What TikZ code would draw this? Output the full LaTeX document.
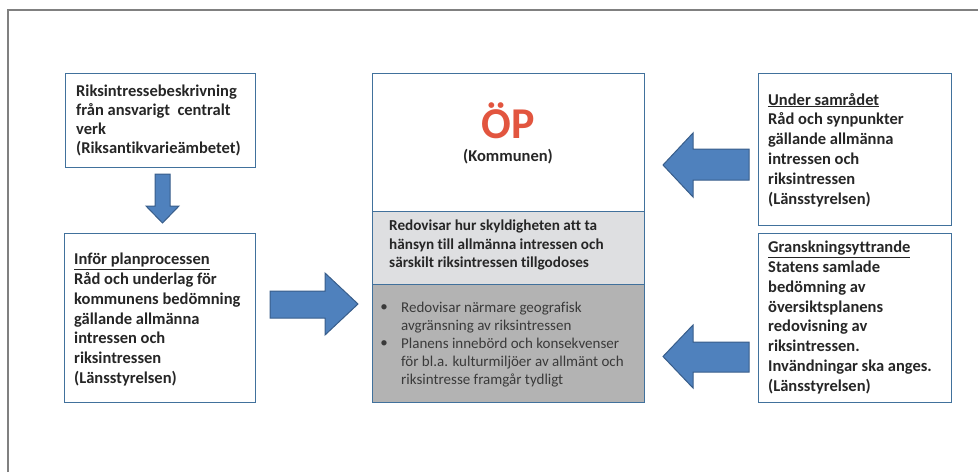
\documentclass[tikz,border=0pt]{standalone}
\usepackage{fontspec}
\setmainfont{Carlito}[Ligatures=NoCommon]
\usetikzlibrary{calc}
\definecolor{boxblue}{HTML}{41719C}
\definecolor{arrowfill}{HTML}{4F81BD}
\definecolor{arrowdraw}{HTML}{385D8A}
\definecolor{txt}{HTML}{262626}
\definecolor{bullettxt}{HTML}{3A3A3A}
\definecolor{midgray}{HTML}{DEDFE1}
\definecolor{lowgray}{HTML}{B3B3B3}
\definecolor{opred}{HTML}{E2553F}
\definecolor{frame}{HTML}{808080}
\tikzset{
  box/.style={draw=boxblue, line width=1.2pt, fill=white, anchor=north west, inner sep=0pt},
  boxtext/.style={anchor=north west, inner sep=0pt, align=left, text=txt,
    font=\fontsize{16.5}{19.8}\selectfont\bfseries},
  blockarrow/.style={fill=arrowfill, draw=arrowdraw, line width=1pt, line join=miter},
  bullettext/.style={anchor=north west, inner sep=0pt, text=bullettxt, font=\fontsize{15}{17.8}\selectfont},
}
\begin{document}
\begin{tikzpicture}[x=1pt,y=-1pt]
\useasboundingbox (0,0) rectangle (978,472);
% partial outer frame
\draw[frame, line width=1.2pt] (8,472) -- (8,10) -- (978,10);

% left boxes
\node[box, minimum width=190pt, minimum height=94pt] (A) at (65,73) {};
\node[boxtext, font=\fontsize{16.5}{19}\selectfont\bfseries] (Atext) at (76,85) {Riksintressebeskrivning\\från ansvarigt~ centralt\\verk\\(Riksantikvarieämbetet)};

\node[box, minimum width=191pt, minimum height=169pt] (B) at (64,233) {};
\node[boxtext] (Btext) at (74,253) {\underline{Inför planprocessen}\\Råd och underlag för\\kommunens bedömning\\gällande allmänna\\intressen och\\riksintressen\\(Länsstyrelsen)};

% right boxes
\node[box, minimum width=193pt, minimum height=152pt] (C) at (758,73) {};
\node[boxtext] (Ctext) at (768,93) {\underline{Under samrådet}\\Råd och synpunkter\\gällande allmänna\\intressen och\\riksintressen\\(Länsstyrelsen)};

\node[box, minimum width=193pt, minimum height=169pt] (D) at (758,233) {};
\node[boxtext] (Dtext) at (768,241) {\underline{Granskningsyttrande}\\Statens samlade\\bedömning av\\översiktsplanens\\redovisning av\\riksintressen.\\Invändningar ska anges.\\(Länsstyrelsen)};

% center box sections
\node[box, minimum width=272pt, minimum height=138pt] (top) at (372,73) {};
\node[box, fill=midgray, minimum width=272pt, minimum height=73pt] (mid) at (372,211) {};
\node[box, fill=lowgray, minimum width=272pt, minimum height=118pt] (low) at (372,284) {};

\node[anchor=center, inner sep=0pt, text=opred, font=\fontsize{44}{50}\selectfont\bfseries] (op) at (508,121) {ÖP};
\node[anchor=center, inner sep=0pt, text=txt, font=\fontsize{16.5}{19}\selectfont\bfseries] (kom) at (508,157) {(Kommunen)};

\node[anchor=north west, inner sep=0pt, align=left, text=txt, font=\fontsize{15.2}{18.2}\selectfont\bfseries] (midtext) at (389,220) {Redovisar hur skyldigheten att ta\\hänsyn till allmänna intressen och\\särskilt riksintressen tillgodoses};

\node[bullettext] (b1) at (401,300) {\begin{tabular}{@{}l@{}}Redovisar närmare geografisk\\avgränsning av riksintressen\end{tabular}};
\node[bullettext] (b2) at (401,336) {\begin{tabular}{@{}l@{}}Planens innebörd och konsekvenser\\för bl.a. kulturmiljöer av allmänt och\\riksintresse framgår tydligt\end{tabular}};
\node[anchor=base, inner sep=0pt, text=bullettxt, font=\fontsize{15}{17.8}\selectfont] at ($(b1.north west)+(-17,11)$) {•};
\node[anchor=base, inner sep=0pt, text=bullettxt, font=\fontsize{15}{17.8}\selectfont] at ($(b2.north west)+(-17,11)$) {•};

% block arrows
% down arrow A -> B
\draw[blockarrow] (155,174) -- (170,174) -- (170,206) -- (179,206) -- (162.5,223) -- (146,206) -- (155,206) -- cycle;
% right arrow B -> center
\draw[blockarrow] (270,291) -- (325,291) -- (325,273) -- (358,304) -- (325,335) -- (325,318) -- (270,318) -- cycle;
% left arrow C -> center
\draw[blockarrow] (749,149) -- (693,149) -- (693,133) -- (663,165) -- (693,197) -- (693,180) -- (749,180) -- cycle;
% left arrow D -> center
\draw[blockarrow] (749,342) -- (693,342) -- (693,325) -- (663,356.5) -- (693,388) -- (693,372) -- (749,372) -- cycle;
\end{tikzpicture}
\end{document}
